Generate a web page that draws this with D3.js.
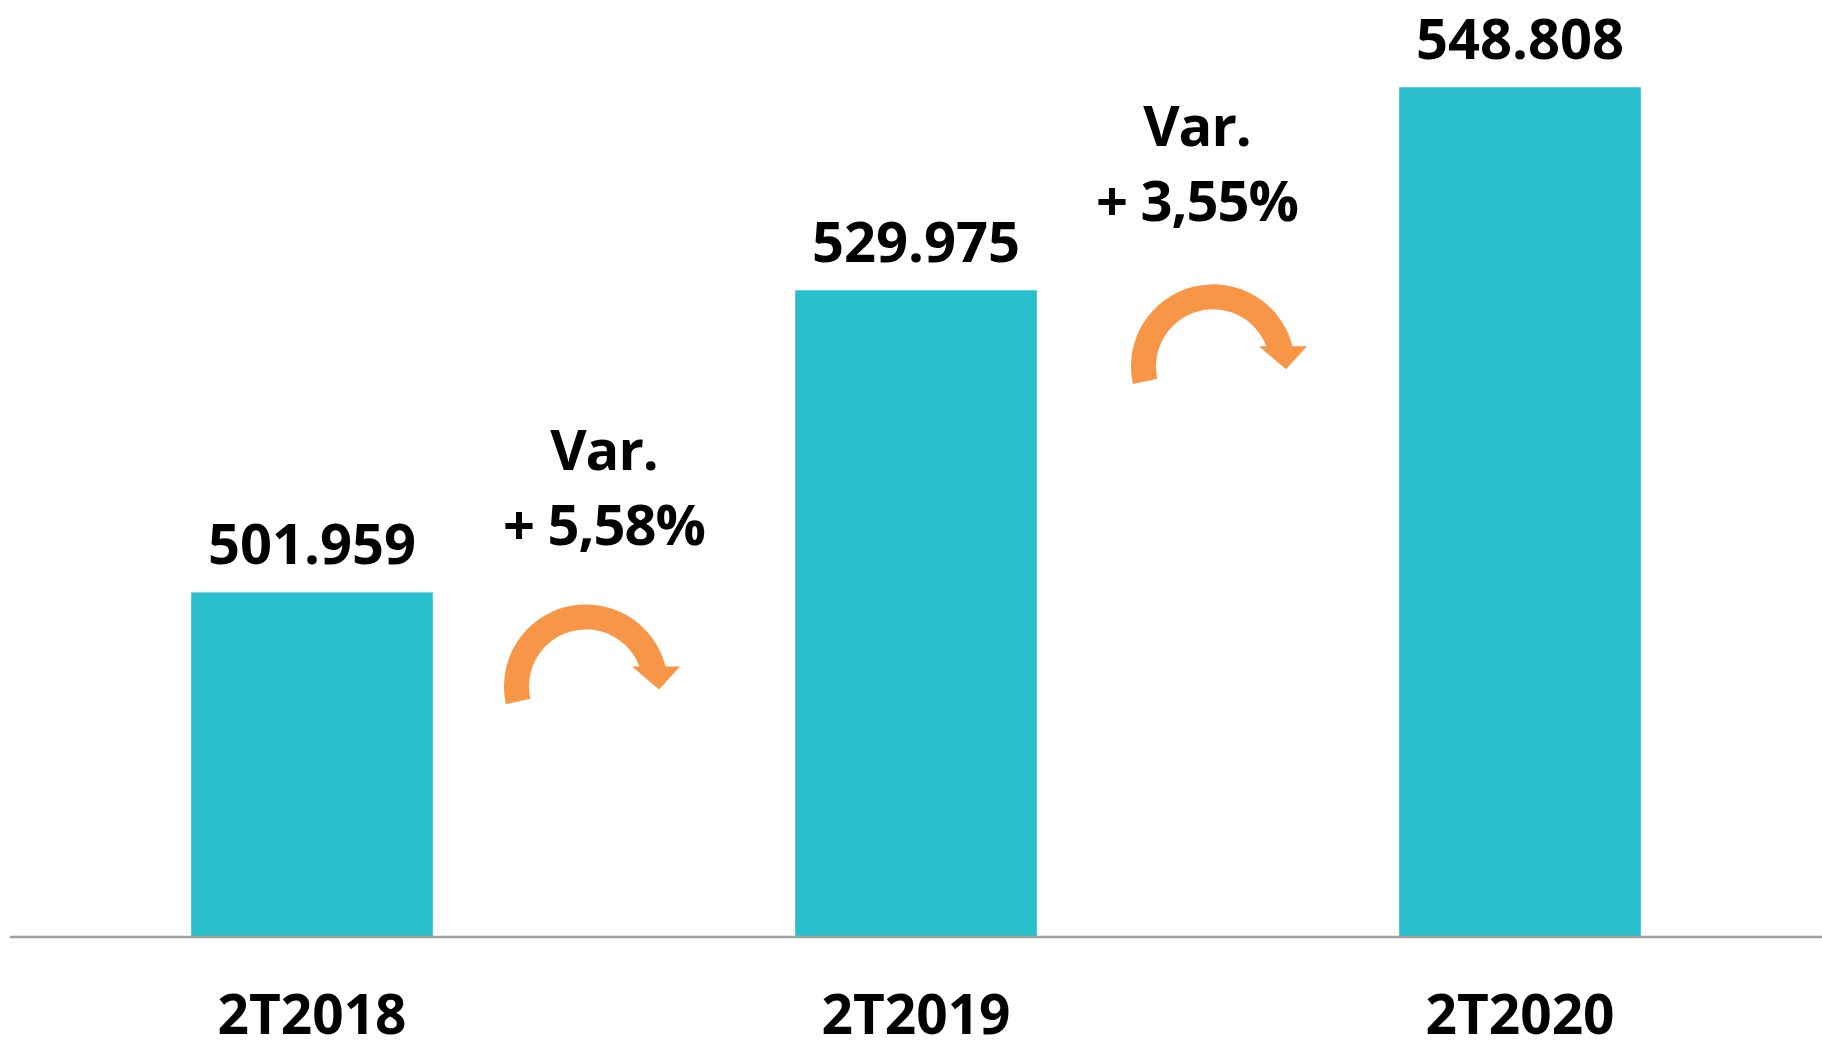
<!DOCTYPE html>
<html>
<head>
<meta charset="utf-8">
<script src="https://cdn.jsdelivr.net/npm/d3@7"></script>
<style>
  html, body { margin: 0; padding: 0; background: #fff; }
  svg { display: block; }
</style>
</head>
<body>
<div id="chart"></div>
<script>
// data
var periods = ["2T2018", "2T2019", "2T2020"];
var values = [501959, 529975, 548808];

// layout for the two "Var." notes (offsets from the gap between bars)
var notes = [
  { dx: -10, textDy: -122, arrowDx: -28, arrowDy: 94 },
  { dx: -21, textDy: -144, arrowDx: -5, arrowDy: 76 }
];

var width = 1822,
  height = 1051;

var locale = d3.formatLocale({ decimal: ",", thousands: ".", grouping: [3], currency: ["", ""] });
var fmtValue = locale.format(",d");
var fmtPct = locale.format(".2%");

var svg = d3
  .select("#chart")
  .append("svg")
  .attr("width", width)
  .attr("height", height);

var x = d3.scaleBand().domain(periods).range([10, 1822]).paddingInner(0.6).paddingOuter(0.3);
var y = d3.scaleLinear().domain([470000, 550000]).range([937, 74.4]);

var font = "'Open Sans', Lato, sans-serif";

// bars
svg
  .selectAll(".bar")
  .data(values)
  .join("rect")
  .attr("class", "bar")
  .attr("x", function (d, i) { return x(periods[i]); })
  .attr("y", function (d) { return y(d); })
  .attr("width", x.bandwidth())
  .attr("height", function (d) { return y.range()[0] - y(d); })
  .attr("fill", "#29BFCC");

// baseline
var axis = svg
  .append("g")
  .attr("transform", "translate(0," + y.range()[0] + ")")
  .call(d3.axisBottom(x).tickSize(0));
axis.select(".domain").attr("stroke", "#a0a0a0").attr("stroke-width", 2.5).attr("d", "M10,0H1822");
axis
  .selectAll(".tick text")
  .attr("font-family", font)
  .attr("font-weight", "bold")
  .attr("font-size", 55)
  .attr("fill", "#000")
  .attr("dy", 0)
  .attr("y", 97);

// value labels
svg
  .selectAll(".val")
  .data(values)
  .join("text")
  .attr("class", "val")
  .attr("x", function (d, i) { return x(periods[i]) + x.bandwidth() / 2; })
  .attr("y", function (d) { return y(d) - 28.5; })
  .attr("text-anchor", "middle")
  .attr("font-family", font)
  .attr("font-weight", "bold")
  .attr("font-size", 56)
  .text(function (d) { return fmtValue(d); });

// curved arrow shape, centred on 0,0
function arrowPath() {
  var R = 82, r = 57, h = 20, dl = (12.5 * Math.PI) / 180;
  var aOut = -Math.asin(h / R), aIn = -Math.asin(h / r);
  var p = d3.path();
  p.moveTo(-R * Math.cos(dl), R * Math.sin(dl));
  p.arc(0, 0, R, Math.PI - dl, 2 * Math.PI + aOut, false);
  p.lineTo(94, -h);
  p.lineTo(73, 3);
  p.lineTo(46, -h);
  p.lineTo(r * Math.cos(aIn), -h);
  p.arc(0, 0, r, 2 * Math.PI + aIn, Math.PI - dl, true);
  p.closePath();
  return p.toString();
}

var pairs = d3.pairs(values);
var noteG = svg
  .selectAll(".note")
  .data(pairs)
  .join("g")
  .attr("class", "note");

noteG.each(function (d, i) {
  var g = d3.select(this);
  var mid = (x(periods[i]) + x(periods[i + 1]) + x.bandwidth()) / 2;
  var yb = y(d[0]);
  var n = notes[i];
  var t = g
    .append("text")
    .attr("text-anchor", "middle")
    .attr("font-family", font)
    .attr("font-weight", "bold")
    .attr("font-size", 56)
    .attr("letter-spacing", -1)
    .attr("fill", "#000");
  t.append("tspan").attr("x", mid + n.dx).attr("y", yb + n.textDy).text("Var.");
  t.append("tspan").attr("x", mid + n.dx).attr("y", yb + n.textDy + 75).text("+ " + fmtPct(d[1] / d[0] - 1));
  g.append("path")
    .attr("d", arrowPath())
    .attr("transform", "translate(" + (mid + n.arrowDx) + "," + (yb + n.arrowDy) + ")")
    .attr("fill", "#F79646");
});
</script>
</body>
</html>
